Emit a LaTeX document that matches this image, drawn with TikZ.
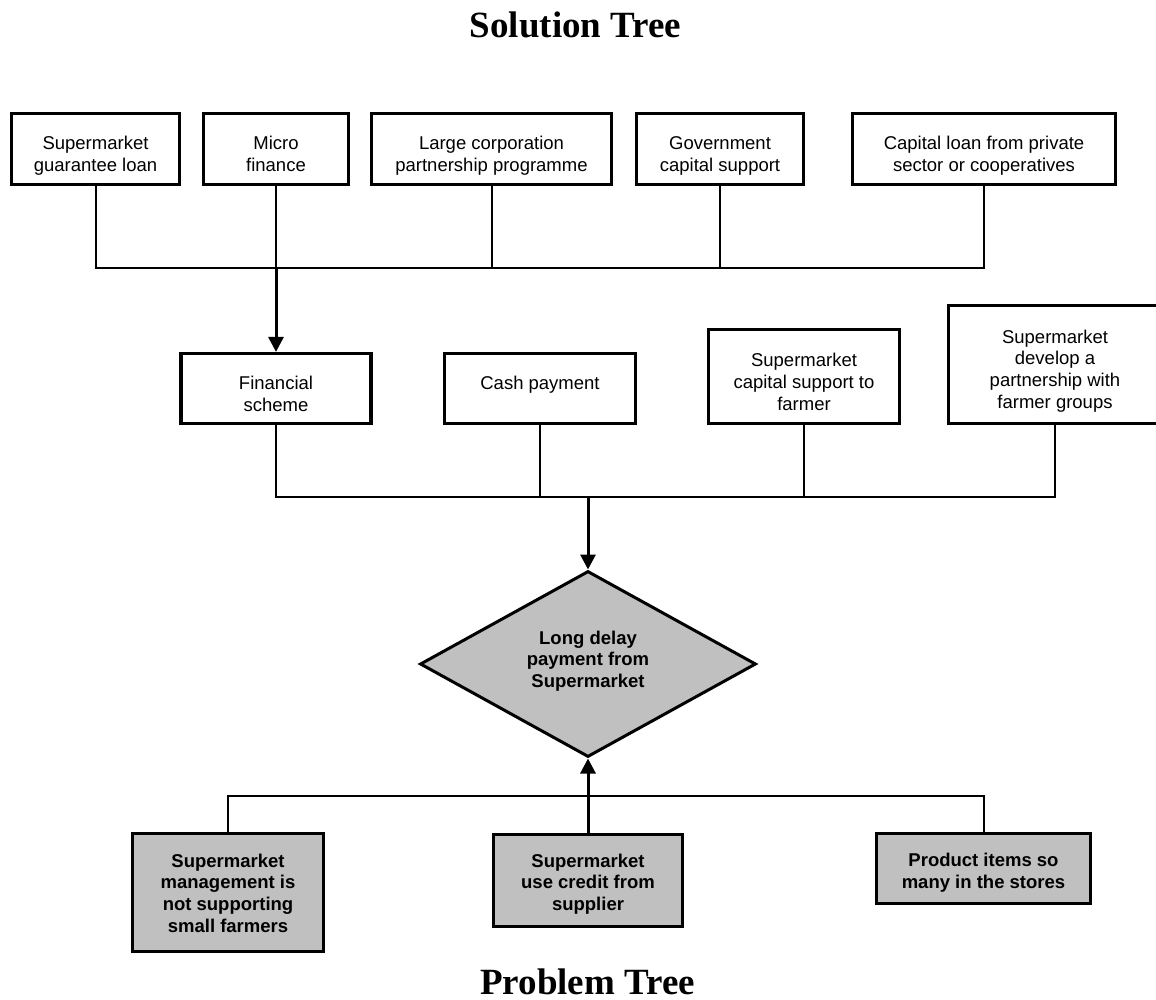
\documentclass[tikz,border=0pt]{standalone}
\usepackage{fontspec}
\setmainfont{Liberation Sans}
\newfontfamily\headfont{Liberation Serif}
\usetikzlibrary{arrows.meta,shapes.geometric}
\definecolor{shade}{HTML}{C0C0C0}
\begin{document}
\begin{tikzpicture}[x=1pt,y=-1pt,
  solbox/.style={draw,line width=3.2pt,rectangle,inner sep=0pt,fill=white},
  probbox/.style={solbox,fill=shade},
  txt/.style={align=center,inner sep=0pt,font=\fontsize{18.5}{21.7}\selectfont},
  btxt/.style={align=center,inner sep=0pt,font=\fontsize{18.5}{21.7}\selectfont\bfseries},
  conn/.style={line width=2pt},
  arr/.style={line width=3pt,-{Triangle[width=15pt,length=15pt]}},
  heading/.style={font=\headfont\bfseries\fontsize{37}{44}\selectfont,anchor=base,inner sep=0pt}]

% canvas
\useasboundingbox (0,0) rectangle (1156,1000);
\fill[white] (0,0) rectangle (1156,1000);
\clip (0,0) rectangle (1156,1000);

% headings
\node[heading] (soltitle) at (575.5,38) {Solution Tree};
\node[heading] (probtitle) at (587.5,994) {Problem Tree};

% ---- solution tree: financing options ----
\node[solbox,minimum width=168,minimum height=71] (s1) at (95.5,149) {};
\node[solbox,minimum width=145,minimum height=71] (s2) at (276,149) {};
\node[solbox,minimum width=240,minimum height=71] (s3) at (491.5,149) {};
\node[solbox,minimum width=167,minimum height=71] (s4) at (720,149) {};
\node[solbox,minimum width=263,minimum height=71] (s5) at (984,149) {};
\node[txt] (s1t) at (95.5,156) {Supermarket\\guarantee loan};
\node[txt] (s2t) at (276,154) {Micro\\finance};
\node[txt] (s3t) at (491.5,156) {Large corporation\\partnership programme};
\node[txt] (s4t) at (720,156) {Government\\capital support};
\node[txt] (s5t) at (984,156) {Capital loan from private\\sector or cooperatives};

% ---- solution tree: measures ----
\node[solbox,minimum width=190,minimum height=70] (fin) at (276,388.5) {};
\node[solbox,minimum width=191,minimum height=70] (cash) at (540,388.5) {};
\node[solbox,minimum width=191,minimum height=94] (cap) at (804,376.5) {};
\node[solbox,minimum width=213,minimum height=118] (part) at (1055,364.5) {};
\node[txt] (fint) at (276,394) {Financial\\scheme};
\node[txt] (casht) at (540,385) {Cash payment};
\node[txt] (capt) at (804,382) {Supermarket\\capital support to\\farmer};
\node[txt] (partt) at (1055,371) {Supermarket\\develop a\\partnership with\\farmer groups};

% ---- core problem ----
\node[diamond,draw,line width=3pt,fill=shade,inner sep=0pt,
      minimum width=336,minimum height=186] (core) at (588,664) {};
\node[btxt] (coret) at (588,661) {Long delay\\payment from\\Supermarket};

% ---- problem tree: causes ----
\node[probbox,minimum width=191,minimum height=118] (c1) at (228,892.5) {};
\node[probbox,minimum width=189,minimum height=92] (c2) at (588,880.5) {};
\node[probbox,minimum width=214,minimum height=70] (c3) at (983.5,868.5) {};
\node[btxt] (c1t) at (228,893) {Supermarket\\management is\\not supporting\\small farmers};
\node[btxt] (c2t) at (588,884) {Supermarket\\use credit from\\supplier};
\node[btxt] (c3t) at (983.5,873) {Product items so\\many in the stores};

% ---- connectors ----
\coordinate (j1) at (276,268);
\draw[conn] (s1.south) |- (j1) -| (s5.south);
\draw[conn] (s2.south) -- (s2.south |- j1);
\draw[conn] (s3.south) -- (s3.south |- j1);
\draw[conn] (s4.south) -- (s4.south |- j1);
\draw[arr] (j1) -- (fin.north);

\coordinate (j2) at (588,497);
\draw[conn] (fin.south) |- (j2) -| (part.south);
\draw[conn] (cash.south) -- (cash.south |- j2);
\draw[conn] (cap.south) -- (cap.south |- j2);
\draw[arr] (j2) -- (core.north);

\coordinate (j3) at (588,796);
\draw[conn] (c1.north) |- (j3) -| (c3.north);
\draw[arr] (c2.north) -- (core.south);
\end{tikzpicture}
\end{document}
